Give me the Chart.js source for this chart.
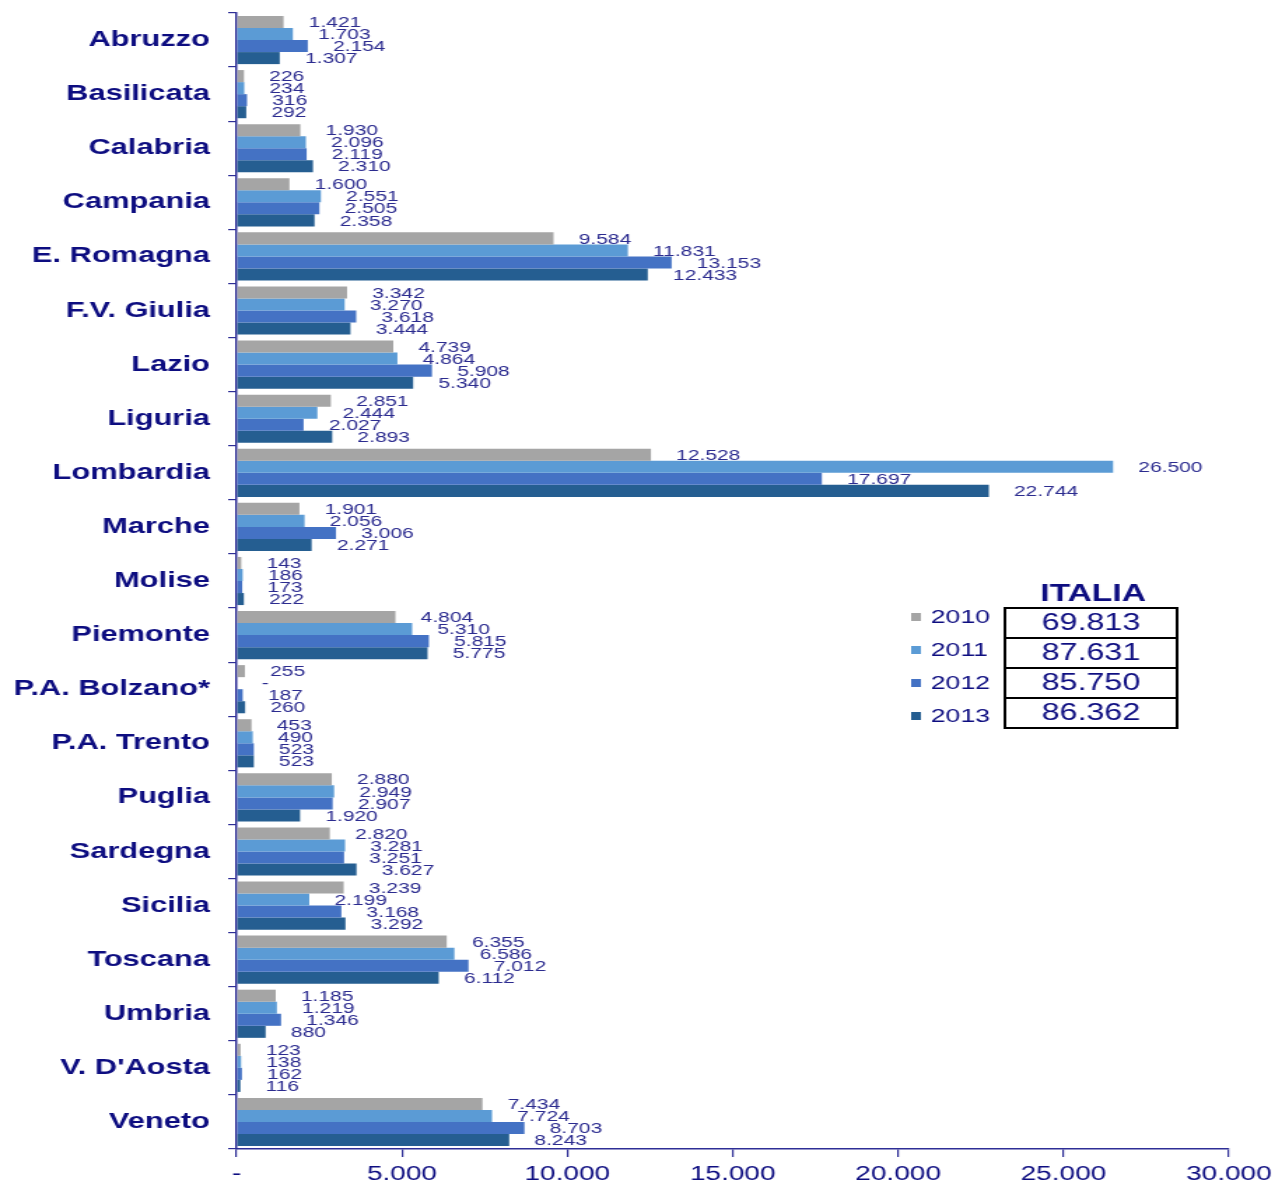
<!DOCTYPE html>
<html>
<head>
<meta charset="utf-8">
<script src="https://cdn.jsdelivr.net/npm/chart.js@4.4.1/dist/chart.umd.min.js"></script>
<style>
  html, body { margin: 0; padding: 0; background: #fff; overflow: hidden; }
  #wrap { width: 916px; height: 1186px; transform: scaleX(1.3996); transform-origin: 0 0; }
</style>
</head>
<body>
<div id="wrap"><canvas id="chart"></canvas></div>
<script>
const regions = ['Abruzzo', 'Basilicata', 'Calabria', 'Campania', 'E. Romagna', 'F.V. Giulia', 'Lazio',
  'Liguria', 'Lombardia', 'Marche', 'Molise', 'Piemonte', 'P.A. Bolzano*', 'P.A. Trento', 'Puglia',
  'Sardegna', 'Sicilia', 'Toscana', 'Umbria', "V. D'Aosta", 'Veneto'];
const years = ['2010', '2011', '2012', '2013'];
const values2010 = [1421, 226, 1930, 1600, 9584, 3342, 4739, 2851, 12528, 1901, 143, 4804, 255, 453, 2880, 2820, 3239, 6355, 1185, 123, 7434];
const values2011 = [1703, 234, 2096, 2551, 11831, 3270, 4864, 2444, 26500, 2056, 186, 5310, 0, 490, 2949, 3281, 2199, 6586, 1219, 138, 7724];
const values2012 = [2154, 316, 2119, 2505, 13153, 3618, 5908, 2027, 17697, 3006, 173, 5815, 187, 523, 2907, 3251, 3168, 7012, 1346, 162, 8703];
const values2013 = [1307, 292, 2310, 2358, 12433, 3444, 5340, 2893, 22744, 2271, 222, 5775, 260, 523, 1920, 3627, 3292, 6112, 880, 116, 8243];
const italiaTotals = [69813, 87631, 85750, 86362];
const xTicks = [0, 5000, 10000, 15000, 20000, 25000, 30000];

const colors = ['#A5A5A5', '#5B9BD5', '#4472C4', '#255E91'];
const navy = '#0d0d80';
const labelBlue = '#2b2b8f';
const axisBlue = '#2e2e96';
const FONT = '"Liberation Sans", Arial, sans-serif';

// 1.234 style thousands
const fmt = v => String(v).replace(/\B(?=(\d{3})+(?!\d))/g, '.');

const valueLabels = {
  id: 'valueLabels',
  afterDatasetsDraw(chart) {
    const ctx = chart.ctx;
    ctx.save();
    ctx.font = '15px ' + FONT;
    ctx.fillStyle = labelBlue;
    ctx.textAlign = 'left';
    ctx.textBaseline = 'middle';
    chart.data.datasets.forEach((ds, i) => {
      chart.getDatasetMeta(i).data.forEach((bar, j) => {
        const v = ds.data[j];
        ctx.fillText(v ? fmt(v) : '-', bar.x + 18, bar.y + 1);
      });
    });
    ctx.restore();
  }
};

const italiaBox = {
  id: 'italiaBox',
  afterDraw(chart) {
    const ctx = chart.ctx;
    ctx.save();
    // legend
    ctx.textBaseline = 'middle';
    ctx.textAlign = 'left';
    ctx.font = '19px ' + FONT;
    years.forEach((y, i) => {
      const cy = 617 + i * 33;
      ctx.fillStyle = colors[i];
      ctx.fillRect(651, cy - 4, 7, 8);
      ctx.fillStyle = navy;
      ctx.fillText(y, 665, cy + 1);
    });
    // table
    ctx.textAlign = 'center';
    ctx.font = 'bold 24px ' + FONT;
    ctx.fillStyle = navy;
    ctx.fillText('ITALIA', 781, 594);
    ctx.strokeStyle = '#000';
    ctx.lineWidth = 2;
    const x0 = 718, w = 123, y0 = 608, rh = 30;
    ctx.font = '23px ' + FONT;
    italiaTotals.forEach((t, i) => {
      ctx.strokeRect(x0, y0 + i * rh, w, rh);
      ctx.fillText(fmt(t), x0 + w / 2, y0 + i * rh + rh / 2 + 1);
    });
    ctx.restore();
  }
};

const data = {
  labels: regions,
  datasets: [values2010, values2011, values2012, values2013].map((vals, i) => ({
    label: years[i],
    data: vals,
    backgroundColor: colors[i],
    borderWidth: 0,
    categoryPercentage: 0.89,
    barPercentage: 1.0
  }))
};

new Chart(document.getElementById('chart'), {
  type: 'bar',
  data: data,
  options: {
    indexAxis: 'y',
    responsive: true,
    maintainAspectRatio: false,
    animation: false,
    layout: { padding: { top: 13, right: 38, bottom: 0, left: 0 } },
    plugins: { legend: { display: false }, tooltip: { enabled: false } },
    scales: {
      x: {
        min: 0,
        max: 30000,
        afterBuildTicks: scale => { scale.ticks = xTicks.map(v => ({ value: v })); },
        afterFit: scale => { scale.height = 37; },
        grid: { drawOnChartArea: false, drawTicks: true, tickLength: 8, color: axisBlue, lineWidth: 1.2 },
        border: { display: true, color: axisBlue, width: 1.5 },
        ticks: {
          padding: 5,
          color: navy,
          font: { family: FONT, size: 20 },
          maxRotation: 0,
          callback: v => v === 0 ? '-' : fmt(v)
        }
      },
      y: {
        afterFit: scale => { scale.width = 169; scale.paddingTop = 0; scale.paddingBottom = 0; },
        grid: { drawOnChartArea: false, drawTicks: true, tickLength: 6, color: axisBlue, lineWidth: 1.2 },
        border: { display: true, color: axisBlue, width: 1.5 },
        ticks: {
          padding: 13,
          color: navy,
          font: { family: FONT, size: 22, weight: 'bold' }
        }
      }
    }
  },
  plugins: [valueLabels, italiaBox]
});
</script>
</body>
</html>
